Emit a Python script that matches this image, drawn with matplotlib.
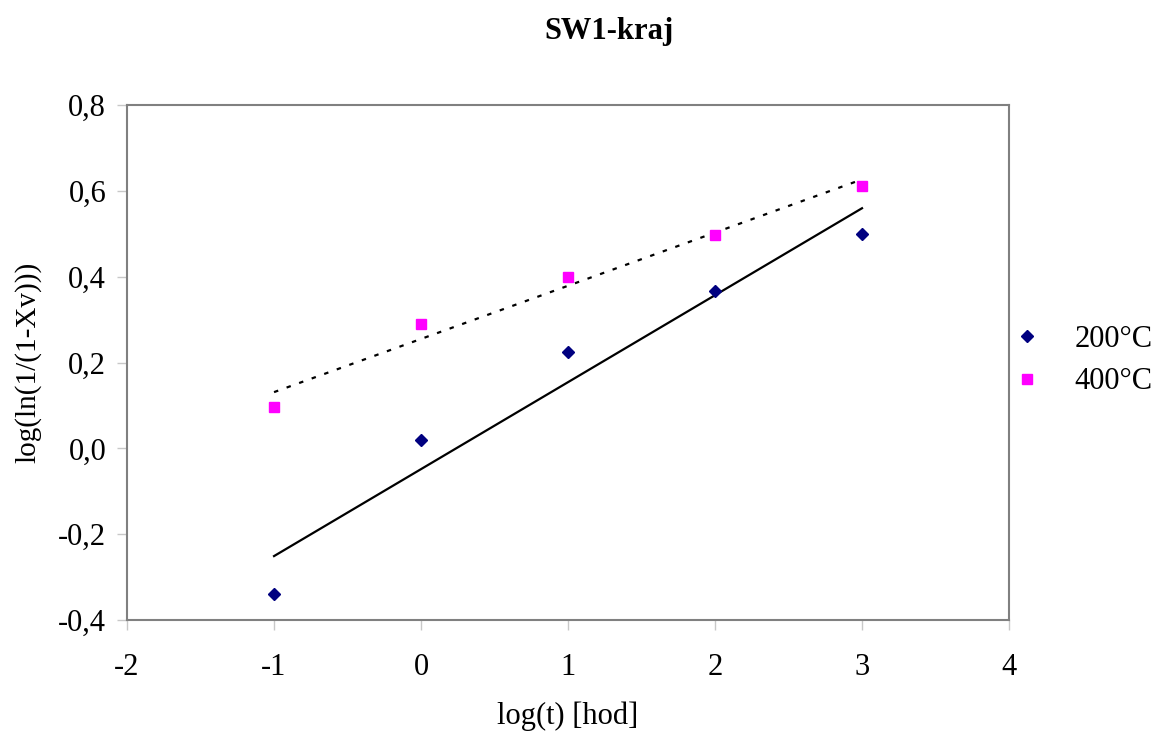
import numpy as np
import matplotlib
matplotlib.use("Agg")
import matplotlib.pyplot as plt
from matplotlib.ticker import FuncFormatter

plt.rcParams["font.family"] = ["Liberation Serif", "DejaVu Serif"]

# ── DATA ──────────────────────────────────────────────────────────────────────
log_t = [-1, 0, 1, 2, 3]
y_200 = [-0.339, 0.019, 0.224, 0.367, 0.500]
y_400 = [0.096, 0.290, 0.399, 0.497, 0.612]
series_labels = ["200°C", "400°C"]

x_ticks = [-2, -1, 0, 1, 2, 3, 4]
y_ticks = [-0.4, -0.2, 0.0, 0.2, 0.4, 0.6, 0.8]

# ── PLOT ──────────────────────────────────────────────────────────────────────
fig = plt.figure(figsize=(11.55, 7.31), dpi=100)
ax = fig.add_axes([0.110, 0.1518, 0.7636, 0.7046])

x = np.array(log_t, dtype=float)
h200, = ax.plot(x, y_200, linestyle="none", marker="D", markersize=5.8,
                color="#000080", label=series_labels[0], zorder=3)
h400, = ax.plot(x, y_400, linestyle="none", marker="s", markersize=7,
                color="#FF00FF", label=series_labels[1], zorder=3)

# linear trendlines (least squares, like the spreadsheet does)
xs = np.array([x.min(), x.max()])
k1, q1 = np.polyfit(x, y_200, 1)
k2, q2 = np.polyfit(x, y_400, 1)
ax.plot(xs, k1 * xs + q1, color="black", linewidth=1.6, zorder=2)
ax.plot(xs, k2 * xs + q2, color="black", linewidth=1.6,
        linestyle=(0, (2, 4)), zorder=2)

ax.set_xlim(-2, 4)
ax.set_ylim(-0.4, 0.8)
ax.set_xticks(x_ticks)
ax.set_yticks(y_ticks)
ax.yaxis.set_major_formatter(FuncFormatter(lambda v, p: f"{v:.1f}".replace(".", ",").replace("-0,0", "0,0")))
ax.xaxis.set_major_formatter(FuncFormatter(lambda v, p: f"{int(round(v))}"))

for s in ax.spines.values():
    s.set_color("#808080")
    s.set_linewidth(1.5)
ax.tick_params(direction="out", length=7, width=1, color="#c8c8c8",
               labelsize=22)
ax.tick_params(axis="x", pad=17)
ax.tick_params(axis="y", pad=8)

ax.set_xlabel("log(t) [hod]", fontsize=22, labelpad=14)
ax.set_ylabel("log(ln(1/(1-Xv)))", fontsize=21, labelpad=12)
fig.suptitle("SW1-kraj", fontsize=22, fontweight="bold", x=0.527, y=0.977)

fig.legend(handles=[h200, h400], loc="center left",
           bbox_to_anchor=(0.859, 0.507), frameon=False, fontsize=22,
           handlelength=0.5, handletextpad=1.3, labelspacing=0.45)

fig.savefig("out.png", dpi=100)
